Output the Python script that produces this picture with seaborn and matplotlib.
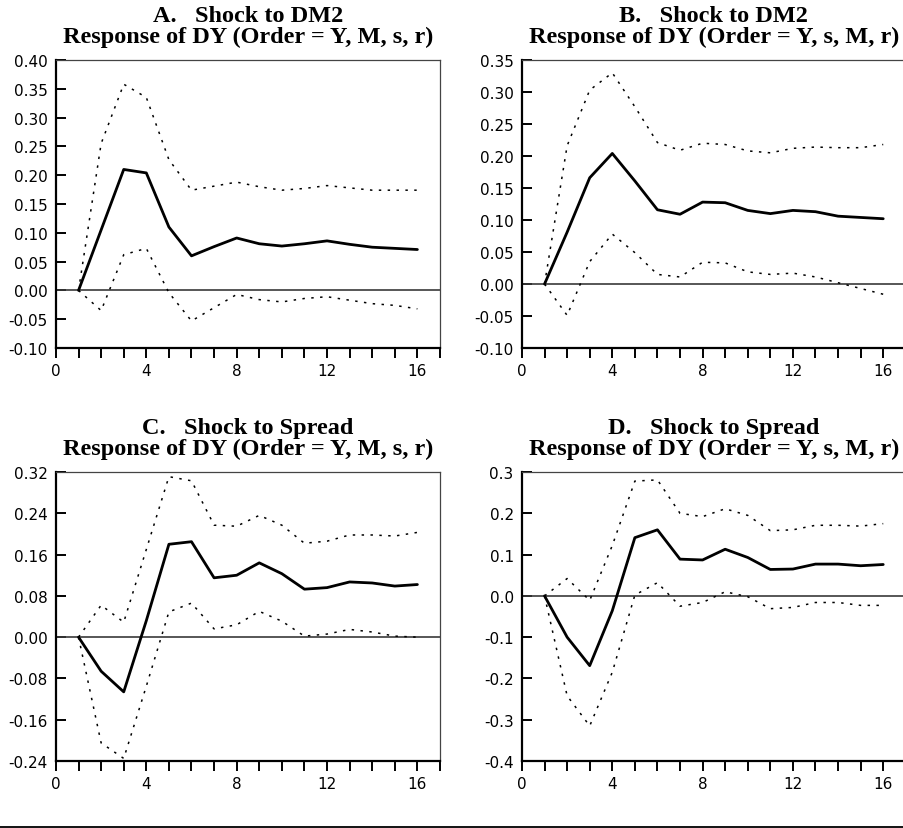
import numpy as np
import matplotlib
matplotlib.use("Agg")
import matplotlib.pyplot as plt
import pandas as pd
import seaborn as sns

####figure settings####
sns.set_style("white")
plt.rcParams["font.family"] = "DejaVu Sans"
plt.rcParams["axes.unicode_minus"] = False
plt.rcParams["text.color"] = "black"
plt.rcParams["xtick.color"] = "black"
plt.rcParams["ytick.color"] = "black"
plt.rcParams["xtick.labelsize"] = 11
plt.rcParams["ytick.labelsize"] = 11
#######################

steps = list(range(1, 17))

# A. shock to DM2, order Y, M, s, r
a_resp = [0.0, 0.105, 0.210, 0.204, 0.110, 0.060, 0.076, 0.091, 0.081, 0.077, 0.081, 0.086, 0.080, 0.075, 0.073, 0.071]
a_upper = [0.0, 0.255, 0.358, 0.335, 0.227, 0.174, 0.181, 0.188, 0.180, 0.174, 0.177, 0.182, 0.178, 0.174, 0.174, 0.174]
a_lower = [0.0, -0.035, 0.062, 0.073, -0.004, -0.053, -0.030, -0.007, -0.016, -0.020, -0.014, -0.011, -0.017, -0.023, -0.026, -0.032]

# B. shock to DM2, order Y, s, M, r
b_resp = [0.0, 0.081, 0.166, 0.204, 0.161, 0.116, 0.109, 0.128, 0.127, 0.115, 0.110, 0.115, 0.113, 0.106, 0.104, 0.102]
b_upper = [0.0, 0.216, 0.303, 0.330, 0.277, 0.221, 0.209, 0.220, 0.218, 0.208, 0.205, 0.212, 0.214, 0.213, 0.213, 0.218]
b_lower = [0.0, -0.049, 0.035, 0.078, 0.049, 0.015, 0.011, 0.034, 0.033, 0.019, 0.015, 0.017, 0.011, 0.002, -0.007, -0.016]

# C. shock to spread, order Y, M, s, r
c_resp = [0.0, -0.066, -0.106, 0.032, 0.180, 0.185, 0.115, 0.120, 0.144, 0.123, 0.093, 0.096, 0.107, 0.105, 0.099, 0.102]
c_upper = [0.0, 0.062, 0.029, 0.170, 0.311, 0.303, 0.217, 0.215, 0.236, 0.217, 0.182, 0.186, 0.198, 0.198, 0.196, 0.203]
c_lower = [0.0, -0.205, -0.235, -0.095, 0.049, 0.066, 0.016, 0.024, 0.050, 0.031, 0.002, 0.006, 0.015, 0.010, 0.002, 0.000]

# D. shock to spread, order Y, s, M, r
d_resp = [0.0, -0.100, -0.169, -0.036, 0.141, 0.160, 0.089, 0.087, 0.113, 0.093, 0.064, 0.065, 0.077, 0.077, 0.073, 0.076]
d_upper = [0.0, 0.042, -0.011, 0.122, 0.278, 0.281, 0.200, 0.192, 0.211, 0.195, 0.158, 0.160, 0.171, 0.171, 0.169, 0.175]
d_lower = [0.0, -0.242, -0.315, -0.185, 0.002, 0.032, -0.025, -0.016, 0.010, -0.002, -0.031, -0.028, -0.016, -0.016, -0.023, -0.023]

titles = ["A.   Shock to DM2\nResponse of DY (Order = Y, M, s, r)",
          "B.   Shock to DM2\nResponse of DY (Order = Y, s, M, r)",
          "C.   Shock to Spread\nResponse of DY (Order = Y, M, s, r)",
          "D.   Shock to Spread\nResponse of DY (Order = Y, s, M, r)"]

y_ticks = [np.round(np.arange(-0.10, 0.401, 0.05), 2),
           np.round(np.arange(-0.10, 0.351, 0.05), 2),
           np.round(np.arange(-0.24, 0.321, 0.08), 2),
           np.round(np.arange(-0.4, 0.31, 0.1), 1)]
y_fmt = ["%.2f", "%.2f", "%.2f", "%.1f"]

panels = [(a_resp, a_upper, a_lower), (b_resp, b_upper, b_lower),
          (c_resp, c_upper, c_lower), (d_resp, d_upper, d_lower)]

fig = plt.figure(figsize=(9.04, 8.29), dpi=100)
boxes = [[0.0619, 0.579, 0.4248, 0.3474],
         [0.5774, 0.579, 0.4246, 0.3474],
         [0.0619, 0.0808, 0.4248, 0.3486],
         [0.5774, 0.0808, 0.4246, 0.3486]]

for i, (resp, upper, lower) in enumerate(panels):
    ax = fig.add_axes(boxes[i])
    df = pd.DataFrame({"step": steps, "resp": resp, "upper": upper, "lower": lower})
    ax.axhline(0, color="#3a3a3a", lw=1.2, zorder=1)
    sns.lineplot(data=df, x="step", y="upper", ax=ax, color="black", lw=1.1,
                 linestyle=(0, (1.6, 4.2)), zorder=2)
    sns.lineplot(data=df, x="step", y="lower", ax=ax, color="black", lw=1.1,
                 linestyle=(0, (1.6, 4.2)), zorder=2)
    sns.lineplot(data=df, x="step", y="resp", ax=ax, color="black", lw=2.0, zorder=3)

    yt = y_ticks[i]
    ax.set_xlim(0, 17)
    ax.set_ylim(yt[0], yt[-1])
    ax.set_xticks(range(0, 18))
    ax.set_xticklabels([str(k) if k % 4 == 0 and k <= 16 else "" for k in range(0, 18)])
    ax.set_yticks(yt)
    ax.set_yticklabels([y_fmt[i] % (0.0 if v == 0 else v) for v in yt])
    ax.set_xlabel("")
    ax.set_ylabel("")

    ax.tick_params(axis="x", direction="out", length=7.5, width=1.4, pad=3)
    ax.tick_params(axis="y", direction="in", length=7.5, width=1.4, pad=6)
    ax.xaxis.set_ticks_position("bottom")
    ax.yaxis.set_ticks_position("left")

    for side in ["left", "bottom"]:
        ax.spines[side].set_color("black")
        ax.spines[side].set_linewidth(1.6)
    for side in ["top", "right"]:
        ax.spines[side].set_color("#444444")
        ax.spines[side].set_linewidth(0.9)

    ax.set_title(titles[i], fontsize=17.5, fontweight="bold", family="Liberation Serif",
                 color="black", linespacing=1.0, pad=13)

# rule along the bottom of the page
fig.add_artist(plt.Line2D([0, 1], [0.0015, 0.0015], color="black", lw=1.3,
                          transform=fig.transFigure))

plt.savefig("out.png", dpi=100)
